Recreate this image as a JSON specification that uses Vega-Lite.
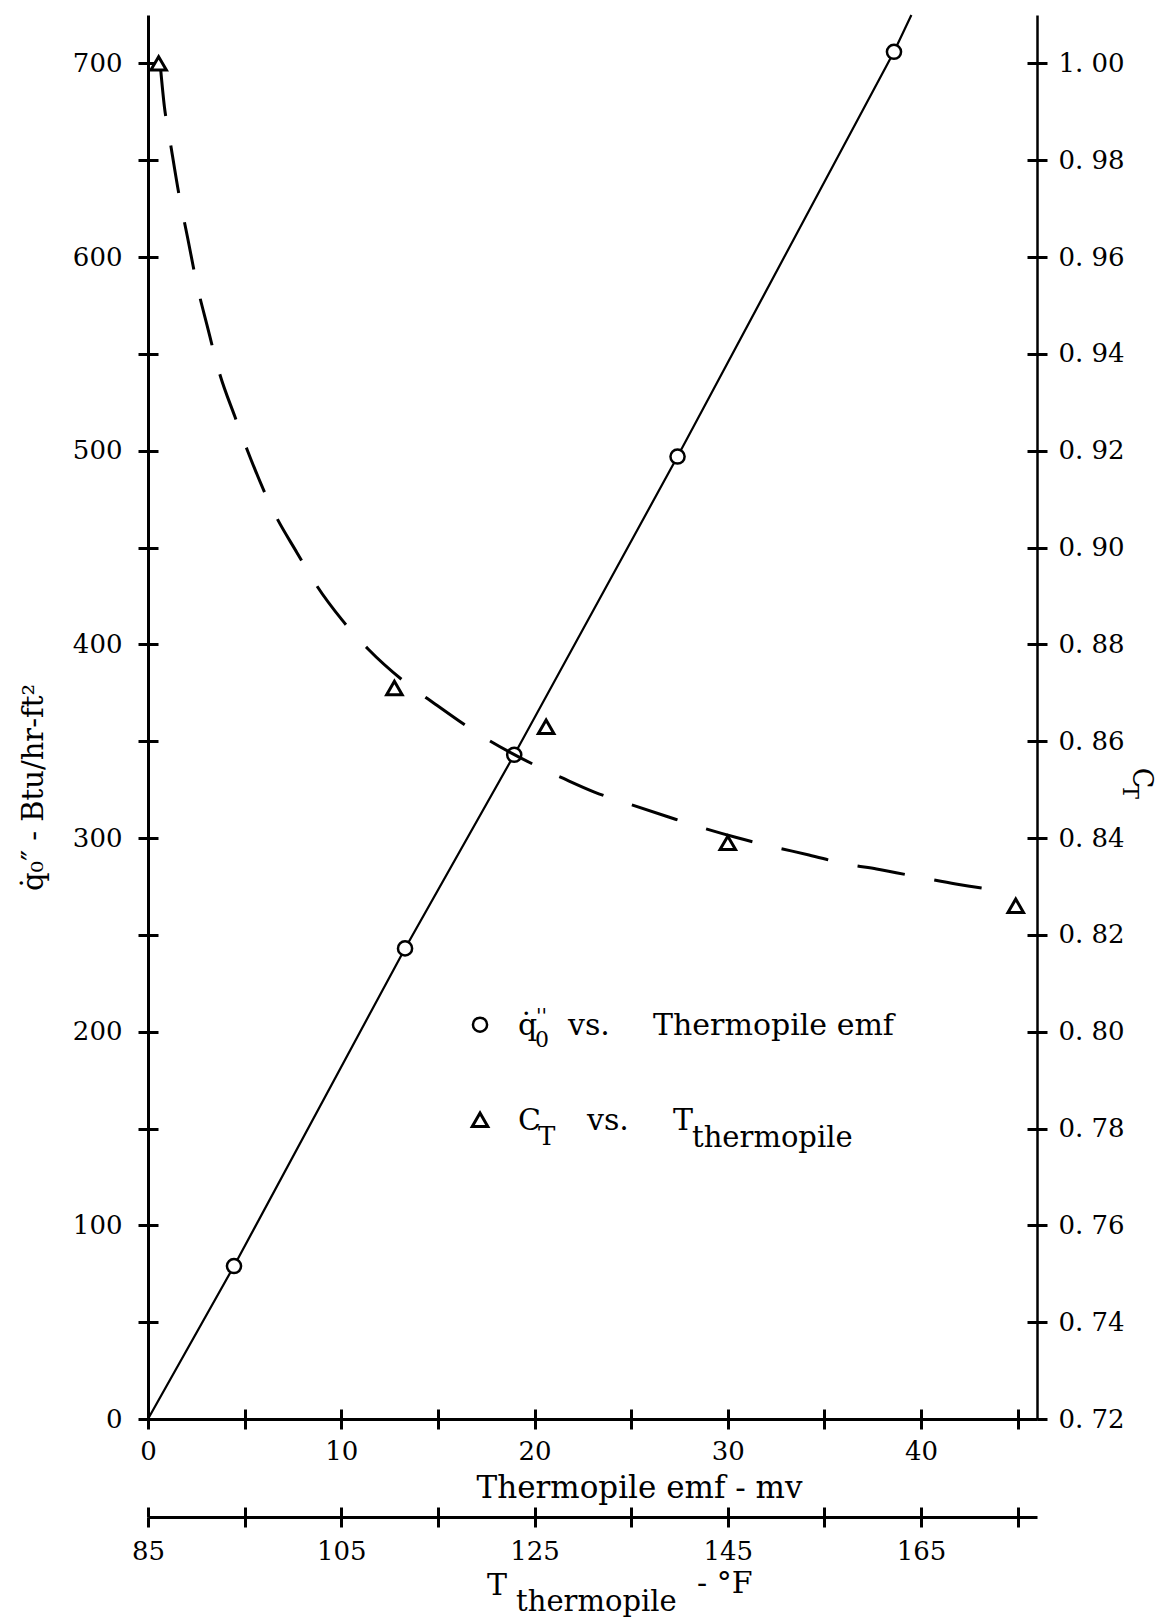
{
  "$schema": "https://vega.github.io/schema/vega-lite/v6.json",
  "width": 889,
  "height": 1404,
  "autosize": "none",
  "padding": {"left": 148, "top": 15, "right": 120, "bottom": 201},
  "background": "white",
  "config": {
    "view": {"stroke": null},
    "font": "DejaVu Serif",
    "axis": {
      "labelFont": "DejaVu Serif", "labelFontSize": 26, "labelColor": "black",
      "tickColor": "black", "domainColor": "black", "tickWidth": 3, "domainWidth": 3,
      "grid": false, "titleFont": "DejaVu Serif", "titleFontSize": 29, "titleColor": "black",
      "titleFontWeight": "normal", "labelFlush": false, "labelOverlap": false
    },
    "text": {"font": "DejaVu Serif", "color": "black"}
  },
  "datasets": {
    "heatflux": [
      {"emf": 4.45, "q": 79}, {"emf": 13.3, "q": 243}, {"emf": 18.95, "q": 343},
      {"emf": 27.4, "q": 497}, {"emf": 38.6, "q": 706}
    ],
    "heatflux_fit": [
      {"emf": 0, "q": 0}, {"emf": 4.45, "q": 79}, {"emf": 13.3, "q": 243}, {"emf": 18.95, "q": 343},
      {"emf": 27.4, "q": 497}, {"emf": 38.6, "q": 706}, {"emf": 39.5, "q": 725}
    ],
    "ct": [
      {"T": 86.1, "C": 1.0}, {"T": 110.5, "C": 0.871}, {"T": 126.2, "C": 0.863},
      {"T": 145.0, "C": 0.839}, {"T": 174.8, "C": 0.826}
    ],
    "ct_fit": [
      {"T": 86.3, "C": 0.999}, {"T": 86.7, "C": 0.991}, {"T": 87.2, "C": 0.985}, {"T": 88.2, "C": 0.973},
      {"T": 89.1, "C": 0.964}, {"T": 90.1, "C": 0.954}, {"T": 91.1, "C": 0.946}, {"T": 92.4, "C": 0.936},
      {"T": 94.0, "C": 0.927}, {"T": 95.3, "C": 0.920}, {"T": 98.1, "C": 0.907}, {"T": 100.4, "C": 0.899},
      {"T": 102.5, "C": 0.892}, {"T": 105.1, "C": 0.885}, {"T": 107.8, "C": 0.879}, {"T": 111.6, "C": 0.8722},
      {"T": 114.7, "C": 0.8677}, {"T": 119.6, "C": 0.861}, {"T": 125.1, "C": 0.855}, {"T": 128.0, "C": 0.8523},
      {"T": 131.2, "C": 0.8495}, {"T": 135.0, "C": 0.8469}, {"T": 138.8, "C": 0.8444}, {"T": 142.4, "C": 0.8421},
      {"T": 145.9, "C": 0.8401}, {"T": 149.7, "C": 0.8382}, {"T": 153.4, "C": 0.8365}, {"T": 157.3, "C": 0.8346},
      {"T": 160.4, "C": 0.8336}, {"T": 165.6, "C": 0.8316}, {"T": 168.6, "C": 0.8305}, {"T": 174.0, "C": 0.8289}
    ],
    "one": [{}]
  },
  "layer": [
    {
      "layer": [
        {
          "data": {"name": "heatflux_fit"},
          "mark": {"type": "line", "color": "black", "strokeWidth": 2.2},
          "encoding": {
            "x": {
              "field": "emf", "type": "quantitative",
              "scale": {"domain": [0, 46], "nice": false, "zero": false},
              "axis": {
                "orient": "bottom", "values": [0, 5, 10, 15, 20, 25, 30, 35, 40, 45],
                "labelExpr": "datum.value % 10 === 0 ? datum.label : ''",
                "tickSize": 10, "labelPadding": 9,
                "title": "Thermopile emf - mv", "titleX": 491, "titleY": 78, "titleFontSize": 31,
                "titleBaseline": "alphabetic", "titleAlign": "center", "titleAnchor": null
              }
            },
            "y": {
              "field": "q", "type": "quantitative",
              "scale": {"domain": [0, 725], "nice": false, "zero": false},
              "axis": {
                "orient": "left", "values": [0, 50, 100, 150, 200, 250, 300, 350, 400, 450, 500, 550, 600, 650, 700],
                "labelExpr": "datum.value % 100 === 0 ? datum.label : ''",
                "tickSize": 10, "labelPadding": 16,
                "title": "q̇₀″ - Btu/hr-ft²", "titleX": -115, "titleY": 772, "titleAngle": 270,
                "titleBaseline": "middle", "titleAlign": "center", "titleAnchor": null
              }
            }
          }
        },
        {
          "data": {"name": "heatflux"},
          "mark": {"type": "point", "shape": "circle", "filled": true, "fill": "white", "stroke": "black", "strokeWidth": 2.5, "size": 200, "opacity": 1},
          "encoding": {
            "x": {"field": "emf", "type": "quantitative"},
            "y": {"field": "q", "type": "quantitative"}
          }
        },
        {
          "data": {"name": "one"},
          "mark": {"type": "point", "shape": "circle", "filled": true, "fill": "white", "stroke": "black", "strokeWidth": 2.5, "size": 200, "opacity": 1},
          "encoding": {"x": {"datum": 17.18, "type": "quantitative"}, "y": {"datum": 203.6, "type": "quantitative"}}
        },
        {
          "data": {"name": "one"},
          "mark": {"type": "text", "text": "q̇", "fontSize": 30, "align": "left", "baseline": "alphabetic", "dx": 38},
          "encoding": {"x": {"datum": 17.18, "type": "quantitative"}, "y": {"datum": 198.4, "type": "quantitative"}}
        },
        {
          "data": {"name": "one"},
          "mark": {"type": "text", "text": "0", "fontSize": 22, "align": "left", "baseline": "alphabetic", "dx": 55, "dy": 12},
          "encoding": {"x": {"datum": 17.18, "type": "quantitative"}, "y": {"datum": 198.4, "type": "quantitative"}}
        },
        {
          "data": {"name": "one"},
          "mark": {"type": "text", "text": "''", "fontSize": 20, "align": "left", "baseline": "alphabetic", "dx": 56, "dy": -12},
          "encoding": {"x": {"datum": 17.18, "type": "quantitative"}, "y": {"datum": 198.4, "type": "quantitative"}}
        },
        {
          "data": {"name": "one"},
          "mark": {"type": "text", "text": "vs.", "fontSize": 30, "align": "left", "baseline": "alphabetic", "dx": 88},
          "encoding": {"x": {"datum": 17.18, "type": "quantitative"}, "y": {"datum": 198.4, "type": "quantitative"}}
        },
        {
          "data": {"name": "one"},
          "mark": {"type": "text", "text": "Thermopile emf", "fontSize": 30, "align": "left", "baseline": "alphabetic", "dx": 173},
          "encoding": {"x": {"datum": 17.18, "type": "quantitative"}, "y": {"datum": 198.4, "type": "quantitative"}}
        },
        {
          "data": {"name": "one"},
          "mark": {"type": "point", "shape": "triangle-up", "filled": true, "fill": "white", "stroke": "black", "strokeWidth": 3, "size": 240, "opacity": 1},
          "encoding": {"x": {"datum": 17.18, "type": "quantitative"}, "y": {"datum": 154.5, "type": "quantitative"}}
        },
        {
          "data": {"name": "one"},
          "mark": {"type": "text", "text": "C", "fontSize": 30, "align": "left", "baseline": "alphabetic", "dx": 38},
          "encoding": {"x": {"datum": 17.18, "type": "quantitative"}, "y": {"datum": 149.4, "type": "quantitative"}}
        },
        {
          "data": {"name": "one"},
          "mark": {"type": "text", "text": "T", "fontSize": 26, "align": "left", "baseline": "alphabetic", "dx": 58, "dy": 15},
          "encoding": {"x": {"datum": 17.18, "type": "quantitative"}, "y": {"datum": 149.4, "type": "quantitative"}}
        },
        {
          "data": {"name": "one"},
          "mark": {"type": "text", "text": "vs.", "fontSize": 30, "align": "left", "baseline": "alphabetic", "dx": 107},
          "encoding": {"x": {"datum": 17.18, "type": "quantitative"}, "y": {"datum": 149.4, "type": "quantitative"}}
        },
        {
          "data": {"name": "one"},
          "mark": {"type": "text", "text": "T", "fontSize": 30, "align": "left", "baseline": "alphabetic", "dx": 193},
          "encoding": {"x": {"datum": 17.18, "type": "quantitative"}, "y": {"datum": 149.4, "type": "quantitative"}}
        },
        {
          "data": {"name": "one"},
          "mark": {"type": "text", "text": "thermopile", "fontSize": 29, "align": "left", "baseline": "alphabetic", "dx": 212, "dy": 17},
          "encoding": {"x": {"datum": 17.18, "type": "quantitative"}, "y": {"datum": 149.4, "type": "quantitative"}}
        }
      ]
    },
    {
      "layer": [
        {
          "data": {"name": "ct_fit"},
          "mark": {"type": "line", "color": "black", "strokeWidth": 3, "strokeDash": [48, 30], "interpolate": "monotone"},
          "encoding": {
            "x": {
              "field": "T", "type": "quantitative",
              "scale": {"domain": [85, 177], "nice": false, "zero": false},
              "axis": {
                "orient": "bottom", "offset": 98, "values": [85, 95, 105, 115, 125, 135, 145, 155, 165, 175],
                "labelExpr": "(datum.value - 85) % 20 === 0 ? datum.label : ''",
                "tickSize": 10, "labelPadding": 11, "title": null
              }
            },
            "y": {
              "field": "C", "type": "quantitative",
              "scale": {"domain": [0.72, 1.01], "nice": false, "zero": false},
              "axis": {
                "orient": "right", "values": [0.72, 0.74, 0.76, 0.78, 0.8, 0.82, 0.84, 0.86, 0.88, 0.9, 0.92, 0.94, 0.96, 0.98, 1.0],
                "labelExpr": "replace(format(datum.value, '.2f'), '.', '. ')",
                "tickSize": 10, "labelPadding": 11, "title": null, "domainWidth": 2.5
              }
            }
          }
        },
        {
          "data": {"name": "ct"},
          "mark": {"type": "point", "shape": "triangle-up", "filled": true, "fill": "white", "stroke": "black", "strokeWidth": 3, "size": 240, "opacity": 1},
          "encoding": {
            "x": {"field": "T", "type": "quantitative"},
            "y": {"field": "C", "type": "quantitative"}
          }
        },
        {
          "data": {"name": "one"},
          "mark": {"type": "text", "text": "C", "fontSize": 27, "angle": 90, "align": "left", "baseline": "alphabetic"},
          "encoding": {"x": {"datum": 186.97, "type": "quantitative"}, "y": {"datum": 0.8545, "type": "quantitative"}}
        },
        {
          "data": {"name": "one"},
          "mark": {"type": "text", "text": "T", "fontSize": 23, "angle": 90, "align": "left", "baseline": "alphabetic", "dx": 16, "dy": 10},
          "encoding": {"x": {"datum": 186.97, "type": "quantitative"}, "y": {"datum": 0.8545, "type": "quantitative"}}
        },
        {
          "data": {"name": "one"},
          "mark": {"type": "text", "text": "T", "fontSize": 30, "align": "left", "baseline": "alphabetic"},
          "encoding": {"x": {"datum": 120.09, "type": "quantitative"}, "y": {"datum": 0.6836, "type": "quantitative"}}
        },
        {
          "data": {"name": "one"},
          "mark": {"type": "text", "text": "thermopile", "fontSize": 29, "align": "left", "baseline": "alphabetic", "dx": 29, "dy": 16},
          "encoding": {"x": {"datum": 120.09, "type": "quantitative"}, "y": {"datum": 0.6836, "type": "quantitative"}}
        },
        {
          "data": {"name": "one"},
          "mark": {"type": "text", "text": "- °F", "fontSize": 30, "align": "left", "baseline": "alphabetic", "dx": 210, "dy": -2},
          "encoding": {"x": {"datum": 120.09, "type": "quantitative"}, "y": {"datum": 0.6836, "type": "quantitative"}}
        }
      ]
    },
    {
      "data": {"name": "heatflux"},
      "mark": {"type": "point", "opacity": 0},
      "encoding": {
        "x": {
          "field": "emf", "type": "quantitative",
          "scale": {"domain": [0, 46], "nice": false, "zero": false},
          "axis": {"orient": "bottom", "offset": -10, "values": [0, 5, 10, 15, 20, 25, 30, 35, 40, 45], "tickSize": 10, "labels": false, "domain": false, "title": null}
        },
        "y": {
          "field": "q", "type": "quantitative",
          "scale": {"domain": [0, 725], "nice": false, "zero": false},
          "axis": {"orient": "left", "offset": -10, "values": [0, 50, 100, 150, 200, 250, 300, 350, 400, 450, 500, 550, 600, 650, 700], "tickSize": 10, "labels": false, "domain": false, "title": null}
        }
      }
    },
    {
      "data": {"name": "ct"},
      "mark": {"type": "point", "opacity": 0},
      "encoding": {
        "x": {
          "field": "T", "type": "quantitative",
          "scale": {"domain": [85, 177], "nice": false, "zero": false},
          "axis": {"orient": "bottom", "offset": 88, "values": [85, 95, 105, 115, 125, 135, 145, 155, 165, 175], "tickSize": 10, "labels": false, "domain": false, "title": null}
        },
        "y": {
          "field": "C", "type": "quantitative",
          "scale": {"domain": [0.72, 1.01], "nice": false, "zero": false},
          "axis": {"orient": "right", "offset": -10, "values": [0.72, 0.74, 0.76, 0.78, 0.8, 0.82, 0.84, 0.86, 0.88, 0.9, 0.92, 0.94, 0.96, 0.98, 1.0], "tickSize": 10, "labels": false, "domain": false, "title": null}
        }
      }
    }
  ],
  "resolve": {"scale": {"x": "independent", "y": "independent"}}
}
